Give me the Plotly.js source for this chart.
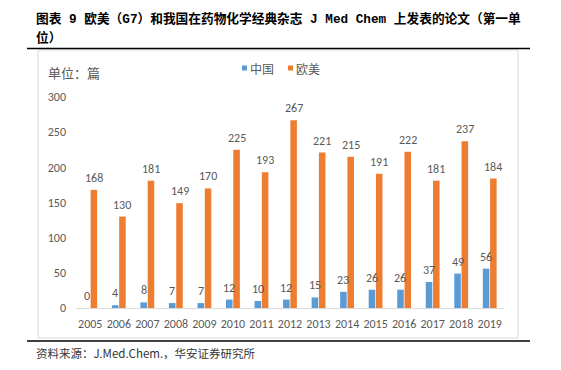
<!DOCTYPE html>
<html>
<head>
<meta charset="utf-8">
<script src="https://cdn.plot.ly/plotly-3.0.1.min.js"></script>
<style>html,body{margin:0;padding:0;background:#fff;}#chart{width:561px;height:370px;}</style>
</head>
<body>
<div id="chart"></div>
<script>
const years = ['2005','2006','2007','2008','2009','2010','2011','2012','2013','2014','2015','2016','2017','2018','2019'];
const china = [0,4,8,7,7,12,10,12,15,23,26,26,37,49,56];
const euro = [168,130,181,149,170,225,193,267,221,215,191,222,181,237,184];
const seriesNames = ['中国','欧美'];
const seriesColors = ['#5B9BD5','#ED7D31'];
const yTicks = [0,50,100,150,200,250,300];
const titleLine1 = '图表 9 欧美（G7）和我国在药物化学经典杂志 J Med Chem 上发表的论文（第一单';
const titleLine2 = '位）';
const unitLabel = '单位：篇';
const sourceText = '资料来源：J.Med.Chem.，华安证券研究所';

const W = 561, H = 370;
const M = {l:76, r:57, t:97, b:62};
const PW = W - M.l - M.r, PH = H - M.t - M.b;
const xp = px => (px - M.l) / PW;
const yp = py => (H - M.b - py) / PH;
const BARGAP = 0.49, GROUPGAP = 0.1;
const slot = PW / years.length * (1 - BARGAP) / 2;

const NUM = 'Carlito, Lato, "Open Sans", sans-serif';
const CJK = '"Noto Sans CJK SC", sans-serif';
const GRAY = '#595959';

const seriesVals = [china, euro];
const traces = seriesVals.map((vals, i) => ({
  type: 'bar',
  x: years,
  y: vals,
  name: seriesNames[i],
  marker: {color: seriesColors[i]},
  hoverinfo: 'none',
  showlegend: false
}));

function titleHtml(s) {
  return '<b>' + s.replace(/([A-Za-z0-9 ]+)/g, m => '<span style="font-family:\'Liberation Mono\',monospace">' + m + '</span>') + '</b>';
}

const annotations = [
  {text: titleHtml(titleLine1), x: xp(34), y: yp(17), xanchor: 'left', yanchor: 'middle'},
  {text: titleHtml(titleLine2), x: xp(34), y: yp(36), xanchor: 'left', yanchor: 'middle'},
].map(a => Object.assign(a, {xref:'paper', yref:'paper', showarrow:false, font:{family:CJK, size:12.7, color:'#000'}}));

annotations.push({text: unitLabel, x: xp(46), y: yp(72), xref:'paper', yref:'paper', xanchor:'left', yanchor:'middle', showarrow:false, font:{family:CJK, size:13, color:GRAY}});
annotations.push({text: sourceText, x: xp(34), y: yp(353), xref:'paper', yref:'paper', xanchor:'left', yanchor:'middle', showarrow:false, font:{family:CJK, size:11.5, color:'#333'}});

const legendX = [248, 294];
seriesNames.forEach((n, i) => {
  annotations.push({text: n, x: xp(legendX[i]), y: yp(68), xref:'paper', yref:'paper', xanchor:'left', yanchor:'middle', showarrow:false, font:{family:CJK, size:12, color:GRAY}});
});

// data labels, positioned on each bar through the axes (category index on x)
seriesVals.forEach((vals, i) => {
  vals.forEach((v, j) => {
    annotations.push({
      text: String(v), x: j, y: v, xref:'x', yref:'y',
      xshift: (i === 0 ? -1 : 1) * slot / 2, yshift: 3,
      xanchor:'center', yanchor:'bottom', showarrow:false,
      font:{family:NUM, size:12, color:GRAY}
    });
  });
});

const shapes = [
  {type:'rect', x0: xp(38), x1: xp(518), y0: yp(50), y1: yp(338), line:{color:'#D9D9D9', width:1}, fillcolor:'rgba(0,0,0,0)'},
  {type:'line', x0: xp(27), x1: xp(530), y0: yp(48.5), y1: yp(48.5), line:{color:'#000', width:1.5}},
  {type:'line', x0: xp(27), x1: xp(530), y0: yp(341), y1: yp(341), line:{color:'#000', width:1.5}},
];
seriesColors.forEach((c, i) => {
  shapes.push({type:'rect', x0: xp(legendX[i]-6), x1: xp(legendX[i]-1), y0: yp(70.5), y1: yp(65.5), line:{width:0}, fillcolor:c});
});
shapes.forEach(s => { s.xref = 'paper'; s.yref = 'paper'; s.layer = 'below'; });

const layout = {
  width: W, height: H,
  margin: M,
  paper_bgcolor: '#fff', plot_bgcolor: '#fff',
  barmode: 'group', bargap: BARGAP, bargroupgap: GROUPGAP,
  showlegend: false,
  xaxis: {type:'category', categoryarray: years, range:[-0.5, years.length - 0.5], showline:true, linecolor:'#D9D9D9', linewidth:1, ticks:'', showgrid:false, zeroline:false,
          tickfont:{family:NUM, size:12, color:GRAY}, ticklabelstandoff: 5},
  yaxis: {range:[0,300], tickvals:yTicks, showgrid:false, zeroline:false, showline:false, ticks:'',
          tickfont:{family:NUM, size:12, color:GRAY}, ticklabelstandoff: 9},
  annotations: annotations,
  shapes: shapes
};

Plotly.newPlot('chart', traces, layout, {staticPlot:true, displayModeBar:false});
</script>
</body>
</html>
